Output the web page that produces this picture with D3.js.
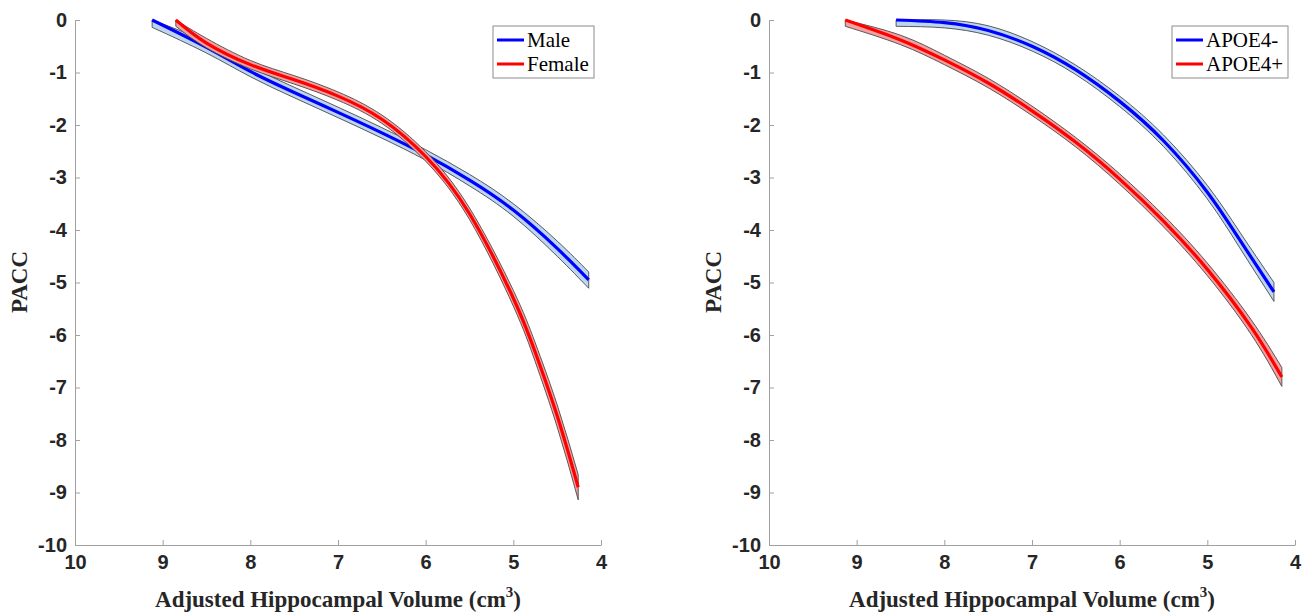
<!DOCTYPE html>
<html>
<head>
<meta charset="utf-8">
<script src="https://cdn.jsdelivr.net/npm/d3@7"></script>
<style>
  body { margin: 0; background: #fff; }
  svg { display: block; }
</style>
</head>
<body>
<div id="chart"></div>
<script>
// tick values (both panels share them)
var xTicks = [10, 9, 8, 7, 6, 5, 4];
var yTicks = [0, -1, -2, -3, -4, -5, -6, -7, -8, -9, -10];

// left panel: sex
var sexNames = ["Male", "Female"];
var maleX  = [9.12, 8.5, 8, 7.5, 7, 6.5, 6, 5.5, 5, 4.5, 4.14];
var maleY  = [0, -0.52, -0.98, -1.38, -1.76, -2.15, -2.57, -3.05, -3.62, -4.35, -4.95];
var maleHi = [0, -0.42, -0.88, -1.28, -1.66, -2.05, -2.47, -2.94, -3.50, -4.21, -4.80];
var maleLo = [-0.14, -0.63, -1.08, -1.48, -1.86, -2.25, -2.67, -3.16, -3.74, -4.50, -5.11];

var femaleX  = [8.85, 8.5, 8, 7.5, 7, 6.5, 6, 5.5, 5, 4.75, 4.5, 4.26];
var femaleY  = [0, -0.44, -0.85, -1.14, -1.45, -1.89, -2.6, -3.69, -5.3, -6.33, -7.54, -8.9];
var femaleHi = [0, -0.35, -0.77, -1.06, -1.37, -1.81, -2.51, -3.58, -5.15, -6.15, -7.33, -8.66];
var femaleLo = [-0.12, -0.53, -0.93, -1.22, -1.53, -1.97, -2.69, -3.80, -5.45, -6.51, -7.75, -9.14];

// right panel: APOE4 status
var apoeNames = ["APOE4-", "APOE4+"];
var negX  = [8.55, 8, 7.5, 7, 6.5, 6, 5.5, 5, 4.63, 4.24];
var negY  = [0, -0.05, -0.2, -0.5, -0.95, -1.55, -2.3, -3.28, -4.19, -5.18];
var negHi = [0, 0, -0.11, -0.41, -0.86, -1.45, -2.19, -3.15, -4.04, -5.0];
var negLo = [-0.12, -0.15, -0.29, -0.59, -1.04, -1.65, -2.41, -3.41, -4.34, -5.36];

var posX  = [9.13, 8.5, 8, 7.5, 7, 6.5, 6, 5.5, 5, 4.5, 4.15];
var posY  = [0, -0.38, -0.76, -1.2, -1.73, -2.33, -3.03, -3.83, -4.75, -5.85, -6.8];
var posHi = [0, -0.29, -0.67, -1.11, -1.64, -2.24, -2.93, -3.72, -4.63, -5.71, -6.62];
var posLo = [-0.12, -0.47, -0.85, -1.29, -1.82, -2.42, -3.13, -3.94, -4.87, -5.99, -6.98];

var width = 1308, height = 613;

var svg = d3.select("#chart")
  .append("svg")
    .attr("width", width)
    .attr("height", height);

function zip(xs, ys, his, los) {
  return xs.map(function(v, i) { return {x: v, y: ys[i], hi: his[i], lo: los[i]}; });
}

function drawPanel(left, right, series, names) {
  var x = d3.scaleLinear().domain([10, 4]).range([left, right]);
  var y = d3.scaleLinear().domain([-10, 0]).range([545, 20]);
  var g = svg.append("g");
  var fmt = function(d) { return String(d); };

  // y axis
  var ya = g.append("g")
    .attr("transform", "translate(" + left + ",0)")
    .call(d3.axisLeft(y).tickValues(yTicks).tickFormat(fmt)
      .tickSizeInner(-5).tickSizeOuter(0).tickPadding(8));
  // x axis
  var xa = g.append("g")
    .attr("transform", "translate(0,545)")
    .call(d3.axisBottom(x).tickValues(xTicks).tickFormat(fmt)
      .tickSizeInner(-5).tickSizeOuter(0).tickPadding(10));

  [ya, xa].forEach(function(a) {
    a.select(".domain").attr("stroke", "#a0a0a0");
    a.selectAll(".tick line").attr("stroke", "#a0a0a0");
    a.selectAll(".tick text")
      .attr("fill", "#262626")
      .style("font-family", "'Liberation Sans', Arial, sans-serif")
      .style("font-weight", "bold")
      .style("font-size", "20px");
  });

  // bands then lines
  series.forEach(function(s) {
    var area = d3.area()
      .x(function(d) { return x(d.x); })
      .y0(function(d) { return y(d.lo); })
      .y1(function(d) { return y(d.hi); })
      .curve(d3.curveNatural);
    var line = d3.line()
      .x(function(d) { return x(d.x); })
      .y(function(d) { return y(d.y); })
      .curve(d3.curveNatural);
    var pts = s.data.slice().reverse();
    g.append("path")
      .attr("d", area(pts) + "Z")
      .attr("fill", s.band)
      .attr("stroke", "#4a4a4a")
      .attr("stroke-width", 0.9);
    g.append("path")
      .attr("d", line(pts))
      .attr("fill", "none")
      .attr("stroke", s.color)
      .attr("stroke-width", 3.2);
  });

  // axis titles
  g.append("text")
    .attr("transform", "translate(" + (left - 48) + ",282) rotate(-90)")
    .attr("text-anchor", "middle")
    .style("font-family", "'Liberation Serif', 'Times New Roman', serif")
    .style("font-weight", "bold")
    .style("font-size", "23px")
    .attr("fill", "#262626")
    .text("PACC");

  var xl = g.append("text")
    .attr("x", (left + right) / 2)
    .attr("y", 607)
    .attr("text-anchor", "middle")
    .style("font-family", "'Liberation Serif', 'Times New Roman', serif")
    .style("font-weight", "bold")
    .style("font-size", "23px")
    .attr("fill", "#262626");
  xl.append("tspan").text("Adjusted Hippocampal Volume (cm");
  xl.append("tspan").attr("dy", -10).style("font-size", "15px").text("3");
  xl.append("tspan").attr("dy", 10).text(")");

  // legend
  var lw = names[0].length > 5 ? 116 : 101;
  var lx = right - 7 - lw;
  var lg = g.append("g").attr("transform", "translate(" + lx + ",26)");
  lg.append("rect")
    .attr("width", lw).attr("height", 52)
    .attr("fill", "#fff")
    .attr("stroke", "#8c8c8c")
    .attr("stroke-width", 1);
  series.forEach(function(s, i) {
    var yy = 14 + i * 24;
    lg.append("line")
      .attr("x1", 4).attr("x2", 31)
      .attr("y1", yy).attr("y2", yy)
      .attr("stroke", s.color)
      .attr("stroke-width", 3);
    lg.append("text")
      .attr("x", 34).attr("y", yy + 7)
      .style("font-family", "'Liberation Serif', 'Times New Roman', serif")
      .style("font-size", "21px")
      .attr("fill", "#000")
      .text(names[i]);
  });
}

drawPanel(75, 601, [
  {data: zip(maleX, maleY, maleHi, maleLo), color: "#0000ff", band: "#bcd6f2"},
  {data: zip(femaleX, femaleY, femaleHi, femaleLo), color: "#ff0000", band: "#f3a0a0"}
], sexNames);

drawPanel(769, 1295, [
  {data: zip(negX, negY, negHi, negLo), color: "#0000ff", band: "#bcd6f2"},
  {data: zip(posX, posY, posHi, posLo), color: "#ff0000", band: "#f3a0a0"}
], apoeNames);
</script>
</body>
</html>
